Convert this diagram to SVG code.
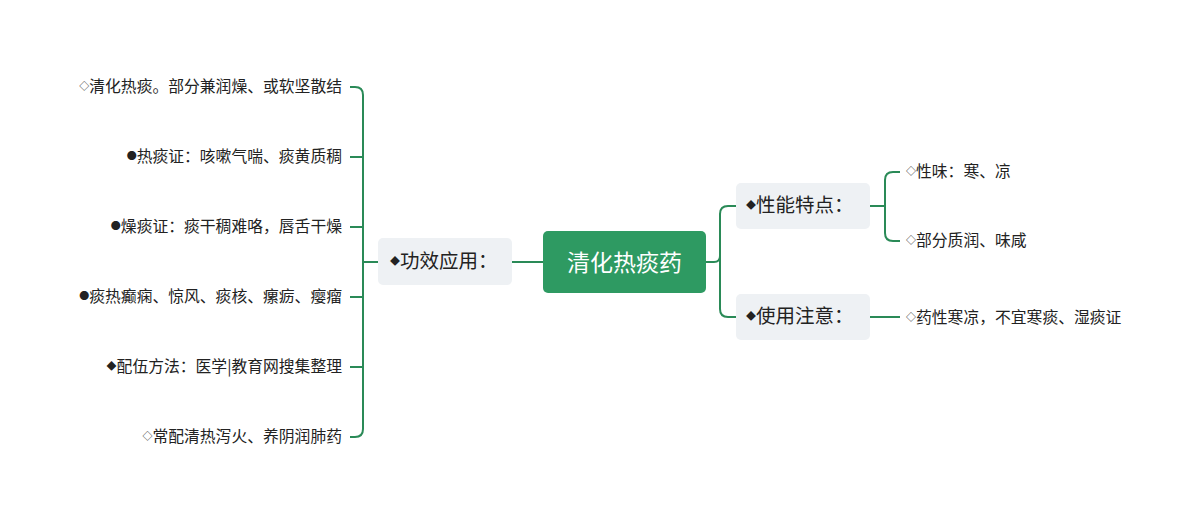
<svg xmlns="http://www.w3.org/2000/svg" width="1200" height="524" viewBox="0 0 1200 524">
<style>
.c{fill:none;stroke:#2a8a57;stroke-width:2}
.t{font-family:"Noto Sans CJK SC","Noto Sans",sans-serif;fill:#222}
.leaf{font-size:15.8px}
.sub{font-size:19.5px}
.s{font-size:10px}
.box{fill:#eef1f4}
</style>
<rect width="1200" height="524" fill="#fff"/>
<g id="connectors">
<path class="c" d="M706 262H714Q720 262 720 256V214Q720 206 728 206H736M720 256V309Q720 317 728 317H736"/>
<path class="c" d="M543 262H512"/>
<path class="c" d="M378 262H363M350 87H355Q363 87 363 95V429Q363 437 355 437H350M350 157H363M350 227H363M350 297H363M350 367H363"/>
<path class="c" d="M870 206H885M900 172H893Q885 172 885 180V233Q885 241 893 241H900"/>
<path class="c" d="M870 317H900"/>
</g>
<g id="root"><rect x="543" y="231" width="163" height="62" rx="5" fill="#2e9a62"/><text class="t" x="624.5" y="271" font-size="23" style="fill:#fff" text-anchor="middle">清化热痰药</text></g>
<g id="n-gx"><rect class="box" x="378" y="238" width="134" height="47" rx="5"/><text class="t sub" x="390" y="268"><tspan class="s" dy="-3">◆</tspan><tspan dy="3">功效应用：</tspan></text></g>
<g id="n-xn"><rect class="box" x="736" y="183" width="134" height="46" rx="5"/><text class="t sub" x="746" y="212"><tspan class="s" dy="-3">◆</tspan><tspan dy="3">性能特点：</tspan></text></g>
<g id="n-sy"><rect class="box" x="736" y="294" width="134" height="46" rx="5"/><text class="t sub" x="746" y="323"><tspan class="s" dy="-3">◆</tspan><tspan dy="3">使用注意：</tspan></text></g>
<g id="leaves-left" class="t leaf" text-anchor="end">
<text x="342" y="92"><tspan class="s" dy="-2">◇</tspan><tspan dy="2">清化热痰。部分兼润燥、或软坚散结</tspan></text>
<text x="342" y="162"><tspan class="s" dy="-2">●</tspan><tspan dy="2">热痰证：咳嗽气喘、痰黄质稠</tspan></text>
<text x="342" y="232"><tspan class="s" dy="-2">●</tspan><tspan dy="2">燥痰证：痰干稠难咯，唇舌干燥</tspan></text>
<text x="342" y="302"><tspan class="s" dy="-2">●</tspan><tspan dy="2">痰热癫痫、惊风、痰核、瘰疬、瘿瘤</tspan></text>
<text x="342" y="372"><tspan class="s" dy="-2">◆</tspan><tspan dy="2">配伍方法：医学|教育网搜集整理</tspan></text>
<text x="342" y="442"><tspan class="s" dy="-2">◇</tspan><tspan dy="2">常配清热泻火、养阴润肺药</tspan></text>
</g>
<g id="leaves-right" class="t leaf">
<text x="906" y="177"><tspan class="s" dy="-2">◇</tspan><tspan dy="2">性味：寒、凉</tspan></text>
<text x="906" y="246"><tspan class="s" dy="-2">◇</tspan><tspan dy="2">部分质润、味咸</tspan></text>
<text x="906" y="323"><tspan class="s" dy="-2">◇</tspan><tspan dy="2">药性寒凉，不宜寒痰、湿痰证</tspan></text>
</g>
</svg>
